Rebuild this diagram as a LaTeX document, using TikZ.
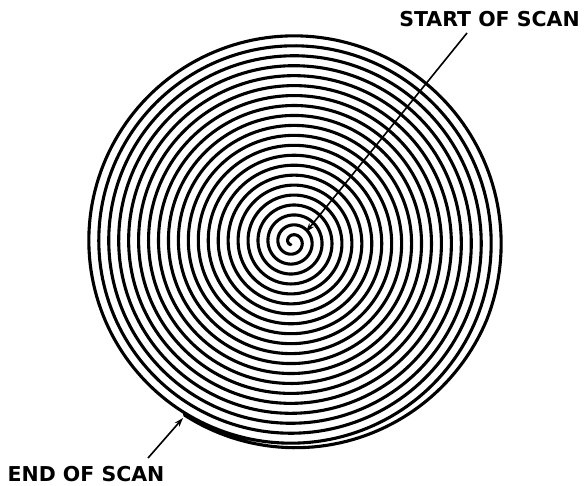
\documentclass[tikz,border=0pt]{standalone}
\usepackage{fontspec}
\setmainfont{DejaVu Sans}
\usetikzlibrary{arrows.meta}
\begin{document}
\begin{tikzpicture}[x=1pt,y=-1pt,
  spiralline/.style={line width=3.1pt, line join=round, line cap=round},
  pointer/.style={line width=1.6pt, -{Stealth[length=9pt,width=6pt]}},
  lbl/.style={font=\bfseries\fontsize{20.5}{22}\selectfont, inner sep=0pt}]
\useasboundingbox (0,0) rectangle (584,486);
% spiral (clockwise outward, last turn merging into the previous one)
\draw[spiralline] plot[domain=0:7560, samples=4000, variable=\t]
  ({292.5 + (3 + 0.027646*\t - 0.08*max(0,\t-7460))*cos(7798-\t)},
   {242 - (3 + 0.027646*\t - 0.08*max(0,\t-7460))*sin(7798-\t)});
% labels
\node[lbl] (start) at (489.5,19.5) {START OF SCAN};
\node[lbl] (end) at (86,474) {END OF SCAN};
\coordinate (startfoot) at (467,33);
\coordinate (starttip) at (306,232);
\coordinate (endfoot) at (148,458);
\coordinate (endtip) at (183,418);
\draw[pointer] (startfoot) -- (starttip);
\draw[pointer] (endfoot) -- (endtip);
\end{tikzpicture}
\end{document}
